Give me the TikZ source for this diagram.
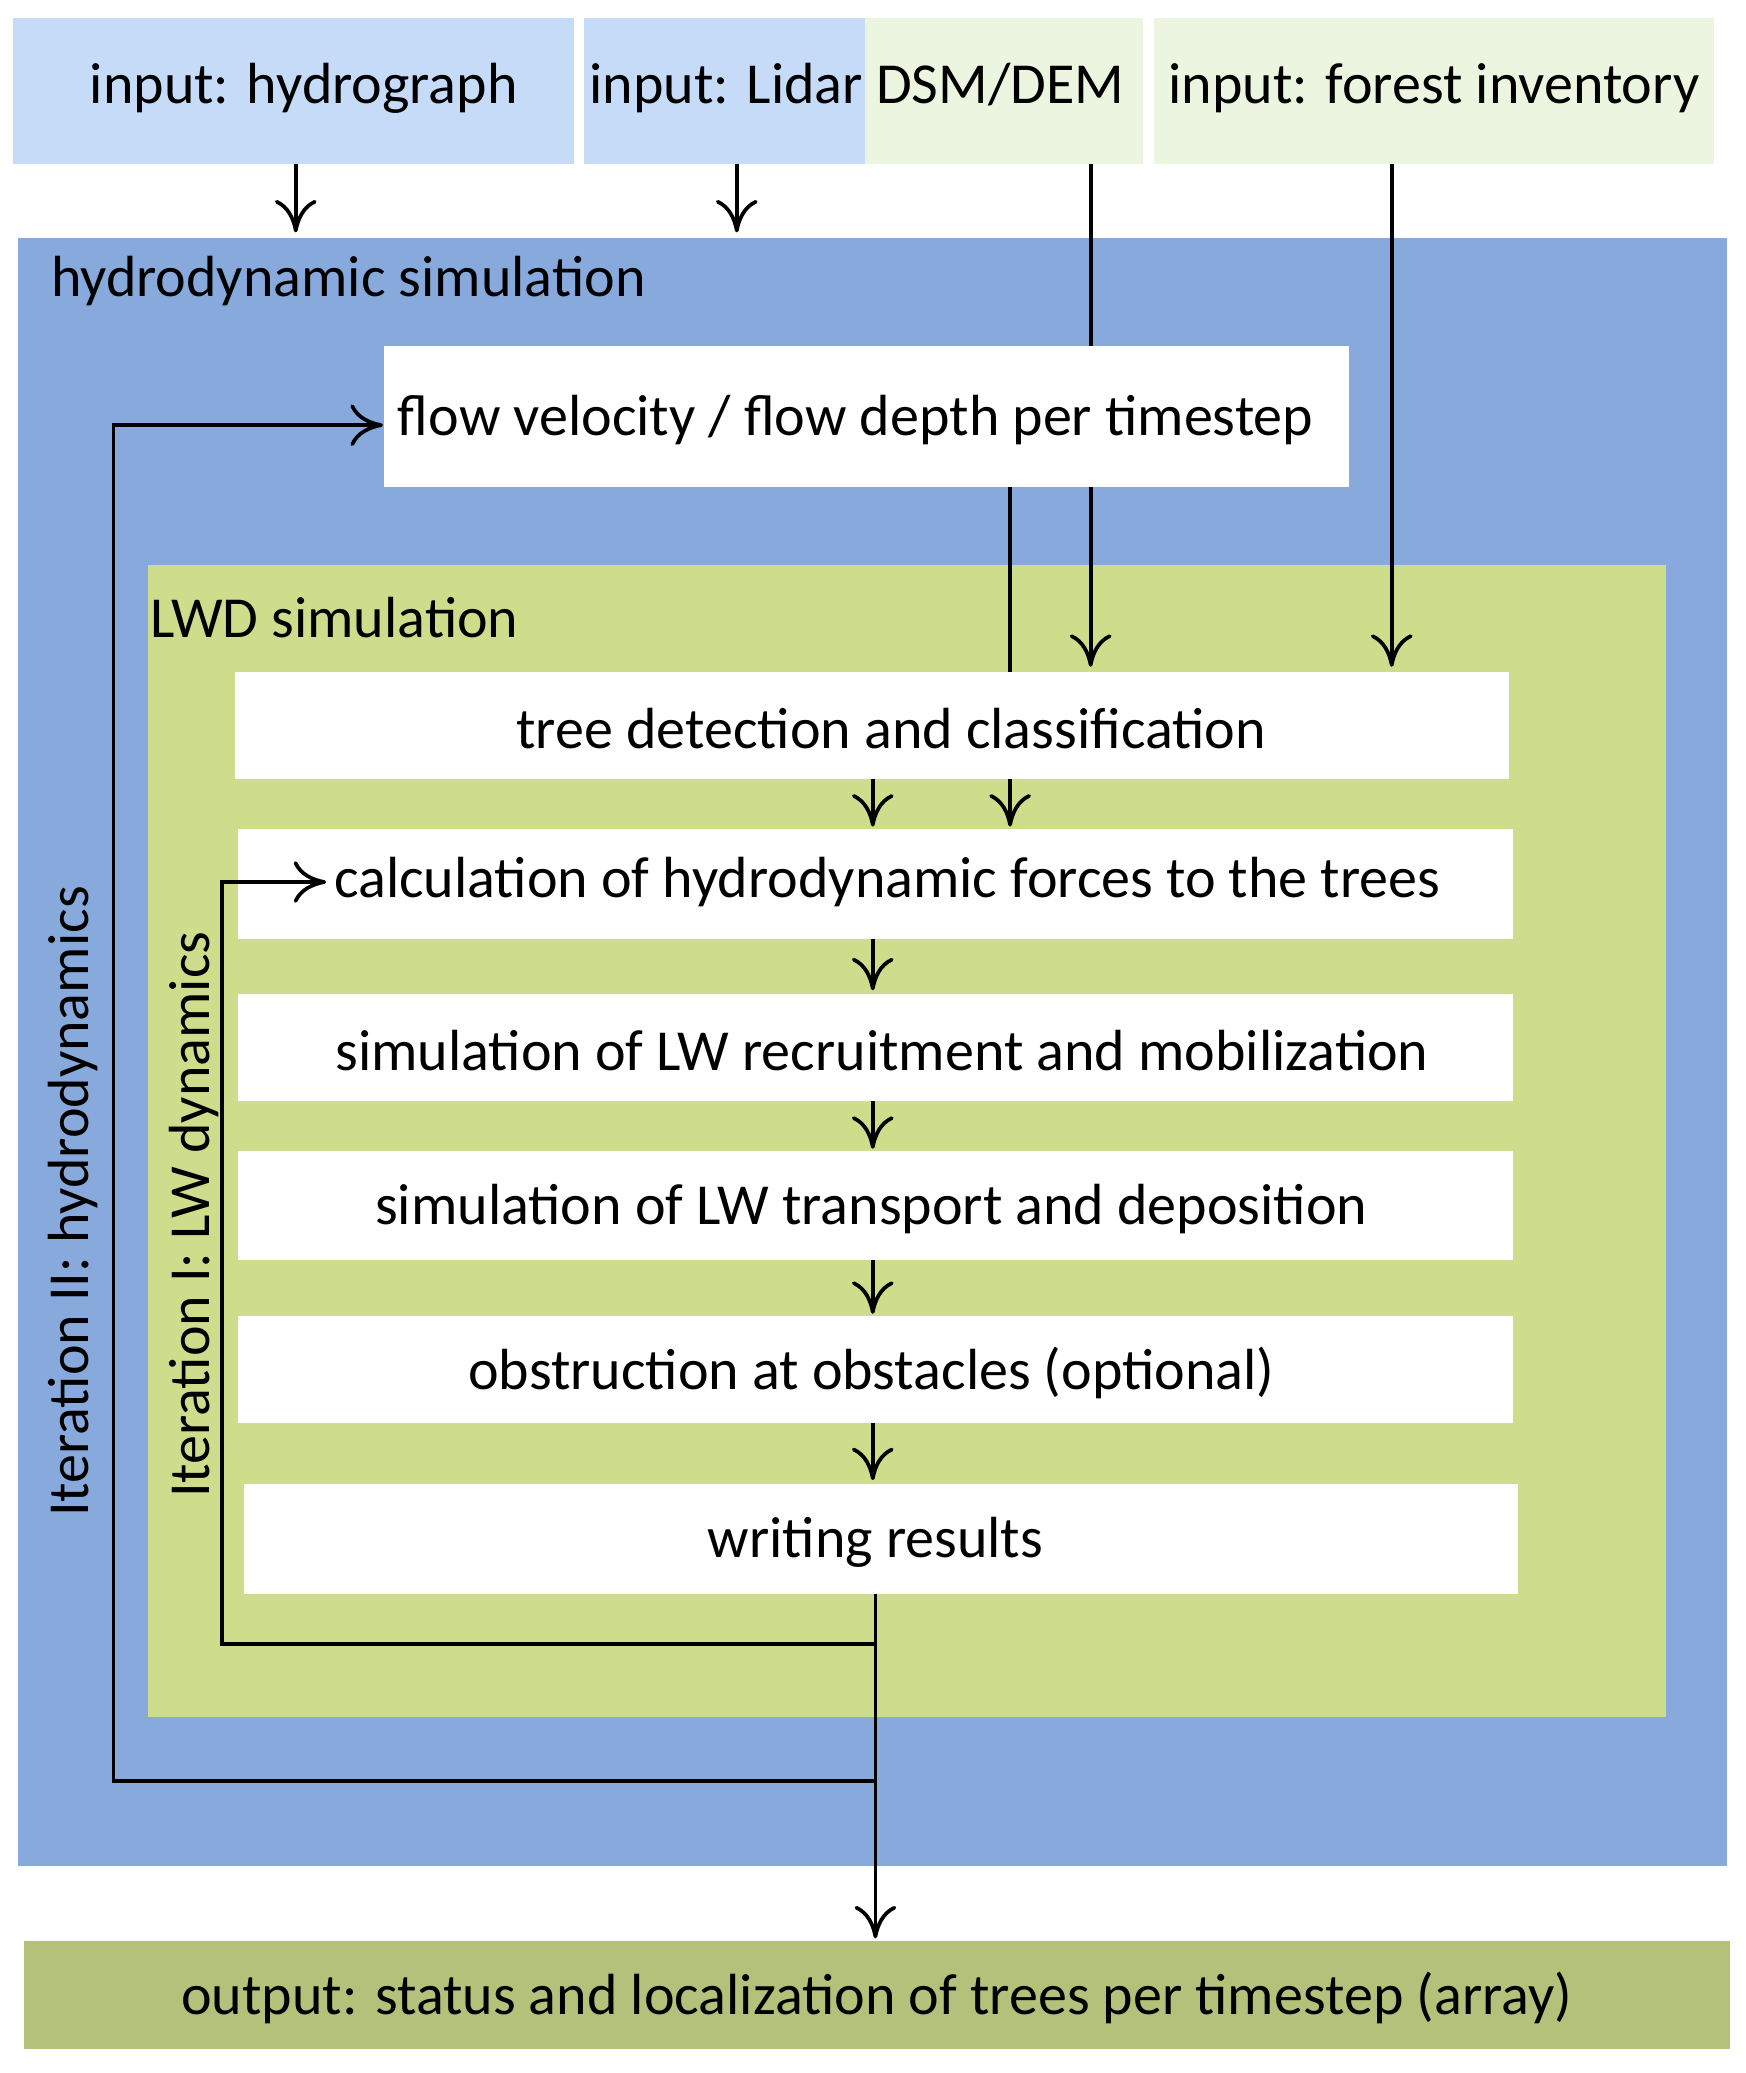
\documentclass[tikz,border=0pt]{standalone}
\usepackage{fontspec}
\setmainfont{Carlito}
\usetikzlibrary{arrows.meta,calc}
\definecolor{lightblue}{HTML}{C6DBF8}
\definecolor{lightgreen}{HTML}{EBF5E0}
\definecolor{hydroblue}{HTML}{87A9DC}
\definecolor{lwdgreen}{HTML}{CEDD8B}
\definecolor{outgreen}{HTML}{B3C17A}
\tikzset{
  box/.style={inner sep=0pt, font=\fontsize{12.5}{15}\selectfont},
  flow/.style={-{To[length=7pt,width=9pt]}, line width=0.8pt},
  link/.style={line width=0.8pt}
}
\begin{document}
\begin{tikzpicture}[x=0.01cm,y=-0.01cm]
		\useasboundingbox (0,0) rectangle (1322,1570);
		% inputs
		\fill[lightblue] (10,14) rectangle (435,124);
		\fill[lightblue] (442,14) rectangle (655,124);
		\fill[lightgreen] (655,14) rectangle (866,124);
		\fill[lightgreen] (874,14) rectangle (1298,124);
		\node[box] (hydrograph) at (230,67) {input: hydrograph};
		\node[box] (lidar) at (649,67) {input: Lidar DSM/DEM};
		\node[box] (forest) at (1086,67) {input: forest inventory};

		% containers
		\fill[hydroblue] (14,180) rectangle (1308,1413);
		\node[box,anchor=west] (hydrosim) at (38,213) {hydrodynamic simulation};
		\fill[lwdgreen] (112,428) rectangle (1262,1300);
		\node[box,anchor=west] (lwdsim) at (113,468) {LWD simulation};
		\fill[outgreen] (18,1470) rectangle (1310,1552);
		\node[box] (output) at (664,1513) {output: status and localization of trees per timestep (array)};

		% steps
		\fill[white] (291,262) rectangle (1022,369);
		\node[box] (velocity) at (648,318) {flow velocity / flow depth per timestep};
		\fill[white] (178,509) rectangle (1143,590);
		\node[box] (detection) at (675,552) {tree detection and classification};
		\fill[white] (180,628) rectangle (1146,711);
		\node[box] (forces) at (672,668) {calculation of hydrodynamic forces to the trees};
		\fill[white] (180,753) rectangle (1146,834);
		\node[box] (recruit) at (668,796) {simulation of LW recruitment and mobilization};
		\fill[white] (180,872) rectangle (1146,954);
		\node[box] (transport) at (660,916) {simulation of LW transport and deposition};
		\fill[white] (180,997) rectangle (1146,1078);
		\node[box] (obstruct) at (660,1040) {obstruction at obstacles (optional)};
		\fill[white] (185,1124) rectangle (1150,1207);
		\node[box] (results) at (663,1168) {writing results};

		\node[box,rotate=90] (iterII) at (55,910) {Iteration II: hydrodynamics};
		\node[box,rotate=90] (iterI) at (147,920) {Iteration I: LW dynamics};

		% connectors
		\draw[flow] (224,124) -- (224,176);
		\draw[flow] (558,124) -- (558,176);
		\draw[link] (826,124) -- (826,262);
		\draw[flow] (826,369) -- (826,505);
		\draw[flow] (1054,124) -- (1054,505);
		\draw[link] (765,369) -- (765,509);
		\draw[flow] (765,590) -- (765,626);
		\draw[flow] (661,590) -- (661,626);
		\draw[flow] (661,711) -- (661,750);
		\draw[flow] (661,834) -- (661,870);
		\draw[flow] (661,954) -- (661,995);
		\draw[flow] (661,1078) -- (661,1121);
		\draw[flow] (663,1207) -- (663,1468);
		\draw[flow] (663,1245) -- (168,1245) -- (168,668) -- (247,668);
		\draw[flow] (663,1349) -- (86,1349) -- (86,322) -- (290,322);
	\end{tikzpicture}
\end{document}
